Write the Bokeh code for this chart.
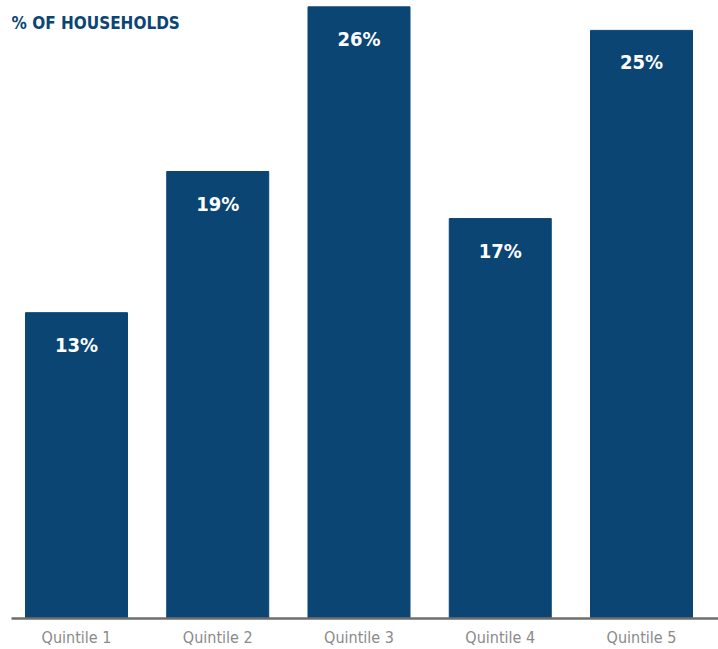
from bokeh.plotting import figure
from bokeh.models import ColumnDataSource, LabelSet, Label, Range1d, FixedTicker
from bokeh.core.properties import value
from bokeh.embed import file_html
from bokeh.resources import INLINE

categories = ["Quintile 1", "Quintile 2", "Quintile 3", "Quintile 4", "Quintile 5"]
values = [13, 19, 26, 17, 25]
value_labels = ["13%", "19%", "26%", "17%", "25%"]

BLUE = "#0a4574"
FONT = "DejaVu Sans Condensed"

xs = list(range(len(categories)))
src = ColumnDataSource(dict(x=xs, top=values, lab=value_labels))

p = figure(width=718, height=649, output_backend="svg", toolbar_location=None,
           x_range=Range1d(-0.46, 4.545), y_range=Range1d(0, 26.27),
           min_border_left=11, min_border_right=0, min_border_top=0, min_border_bottom=20)
p.vbar(x="x", top="top", bottom=0, width=0.722, source=src, color=BLUE)

p.grid.visible = False
p.outline_line_color = None
p.yaxis.visible = False
p.xaxis.ticker = FixedTicker(ticks=xs)
p.xaxis.major_label_overrides = {i: c for i, c in enumerate(categories)}
p.xaxis.major_tick_line_color = None
p.xaxis.major_tick_out = 0
p.xaxis.major_tick_in = 0
p.xaxis.minor_tick_line_color = None
p.xaxis.minor_tick_out = 0
p.xaxis.axis_line_color = "#6e6e6e"
p.xaxis.axis_line_width = 2.5
p.xaxis.major_label_text_color = "#8a8a8a"
p.xaxis.major_label_text_font = FONT
p.xaxis.major_label_text_font_size = "16px"
p.xaxis.major_label_standoff = 9

labels = LabelSet(x="x", y="top", text="lab", source=src, y_offset=-32,
                  text_align="center", text_baseline="middle",
                  text_color="white", text_font=value(FONT), text_font_style="bold",
                  text_font_size="20px")
p.add_layout(labels)

title = Label(x=0, y=596, x_units="screen", y_units="screen", text="% OF HOUSEHOLDS",
              text_color=BLUE, text_font=FONT, text_font_style="bold",
              text_font_size="17px", text_baseline="middle", text_align="left")
p.add_layout(title)

open("out.html", "w").write(file_html(p, INLINE))
